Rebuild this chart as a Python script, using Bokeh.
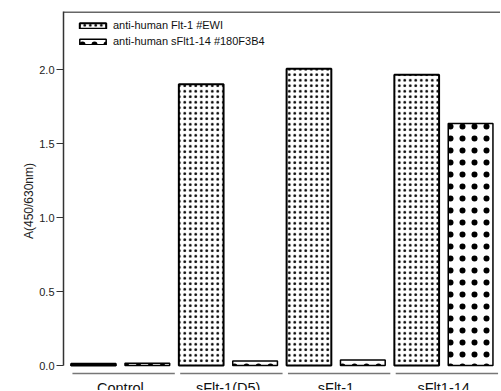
from bokeh.plotting import figure
from bokeh.models import Range1d, FixedTicker, Span, Title, Legend, LegendItem, PrintfTickFormatter
from bokeh.core.properties import value
from bokeh.embed import file_html
from bokeh.resources import INLINE

groups = ["Control", "sFlt-1(D5)", "sFlt-1", "sFlt1-14"]
series = ["anti-human Flt-1 #EWI", "anti-human sFlt1-14 #180F3B4"]
flt1_ewi = [0.012, 1.90, 2.005, 1.965]
sflt1_14 = [0.015, 0.03, 0.037, 1.635]
y_ticks = [0.0, 0.5, 1.0, 1.5, 2.0]
y_label = "A(450/630nm)"

ns = len(series)
ng = len(groups)
x_a = [gi * ns + 0 for gi in range(ng)]
x_b = [gi * ns + 1 for gi in range(ng)]
centers = [gi * ns + 0.5 for gi in range(ng)]

W, H = 500, 390
LEFT, TOP = 62, 11
FW, FH = W - LEFT, H - TOP
PXX = 54.0                      # pixels per unit on x
PX = 148.0                      # pixels per unit on y
X0 = -0.556
X1 = X0 + FW / PXX
Y1 = (365 - TOP) / PX
Y0 = -(H - 365) / PX
UNDER_Y = -8 / PX
LABEL_Y = -22 / PX
FONT = "Liberation Sans"

p = figure(width=W, height=H, output_backend="svg", toolbar_location=None,
           x_axis_location=None,
           x_range=Range1d(X0, X1), y_range=Range1d(Y0, Y1),
           min_border_left=LEFT, min_border_right=0, min_border_top=TOP, min_border_bottom=0)
p.outline_line_color = None
p.grid.visible = False
p.background_fill_color = "white"
p.border_fill_color = "white"

r1 = p.vbar(x=x_a, top=flt1_ewi, width=0.83, fill_color="white", line_color="black",
            line_width=2, hatch_pattern="dot", hatch_scale=5.5, hatch_color="black", hatch_weight=1.0)
r2 = p.vbar(x=x_b, top=sflt1_14, width=0.83, fill_color="white", line_color="black",
            line_width=1.5, hatch_pattern="dot", hatch_scale=12, hatch_color="black", hatch_weight=0.1)

# group underlines and group labels
p.segment(x0=[gi * ns - 0.39 for gi in range(ng)],
          x1=[gi * ns + 1.51 for gi in range(ng)],
          y0=[UNDER_Y] * ng, y1=[UNDER_Y] * ng,
          line_color="#777777", line_width=1.5)
p.text(x=centers, y=[LABEL_Y] * ng, text=groups, text_font=value(FONT),
       text_font_size=value("14.5px"), text_align="center", text_baseline="alphabetic",
       text_color="#111111")

# top frame line
p.add_layout(Span(location=Y1 - 0.004, dimension="width", line_color="#333333", line_width=1.5))

# y axis
ya = p.yaxis[0]
ya.ticker = FixedTicker(ticks=y_ticks)
ya.formatter = PrintfTickFormatter(format="%.1f")
ya.bounds = (0, Y1)
ya.axis_line_color = "#333333"
ya.axis_line_width = 1.5
ya.major_tick_line_color = "#333333"
ya.major_tick_line_width = 1.2
ya.major_tick_out = 7
ya.major_tick_in = 0
ya.minor_tick_line_color = None
ya.major_label_text_font = FONT
ya.major_label_text_font_size = "11px"
ya.major_label_text_color = "#222222"
ya.major_label_standoff = 2

p.add_layout(Title(text=y_label, align="center", offset=22, standoff=2,
                   text_font=FONT, text_font_size="12px", text_font_style="normal",
                   text_color="#222222"), "left")
# empty spacer panel on the outer side to move the y label toward the axis
p.add_layout(Title(text=" ", standoff=0, text_font=FONT, text_font_size="14.5px"), "left")

legend = Legend(items=[LegendItem(label=series[0], renderers=[r1]),
                       LegendItem(label=series[1], renderers=[r2])],
                location=(13, FH - 8 - 28), margin=0, padding=0,
                border_line_color=None, background_fill_alpha=0,
                glyph_width=33, glyph_height=7, label_height=12, spacing=4,
                label_standoff=4, label_text_font=FONT, label_text_font_size="11px",
                label_text_color="#111111")
p.add_layout(legend)

open("out.html", "w").write(file_html(p, INLINE))
